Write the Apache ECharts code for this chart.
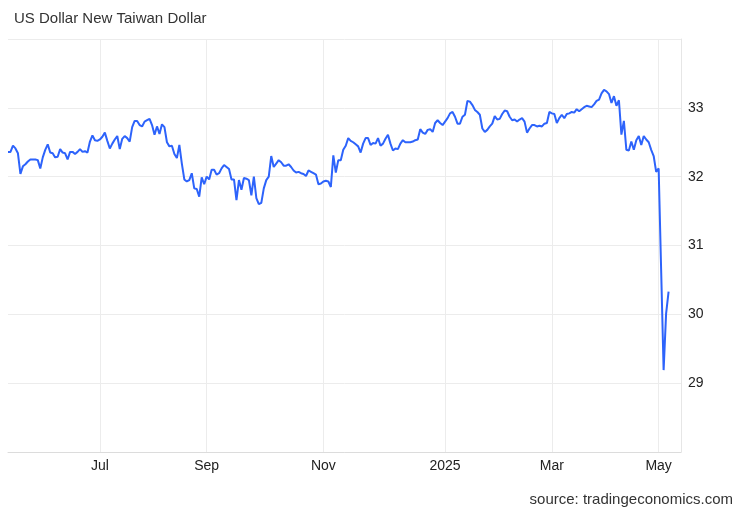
<!DOCTYPE html>
<html><head><meta charset="utf-8">
<script src="https://cdn.jsdelivr.net/npm/echarts@6/dist/echarts.min.js"></script>
<style>html,body{margin:0;padding:0;background:#fff}#c{width:743px;height:515px}</style>
</head><body><div id="c"></div><script>
var mayJun2024 = [32.36,32.36,32.45,32.41,32.34,32.04,32.15,32.18,32.22,32.25,32.25,32.25,32.24,32.12,32.28,32.39,32.47,32.35,32.34,32.28,32.29,32.40,32.35,32.34,32.25,32.36,32.36,32.33,32.36,32.40,32.36,32.37,32.35,32.51,32.60,32.53,32.52];
var julAug2024 = [32.54,32.58,32.64,32.52,32.41,32.48,32.54,32.59,32.40,32.55,32.59,32.56,32.51,32.72,32.81,32.81,32.75,32.73,32.80,32.82,32.84,32.75,32.61,32.73,32.62,32.76,32.72,32.50,32.44,32.45,32.33,32.27,32.46,32.19,31.96,31.93,31.95,32.05,31.83,31.82,31.71,31.99,31.89];
var sepOct2024 = [32.00,31.96,32.10,32.10,32.03,32.05,32.12,32.17,32.14,32.11,31.96,31.96,31.66,31.95,31.81,31.98,31.97,31.95,31.73,32.00,31.69,31.60,31.62,31.83,31.95,32.00,32.30,32.14,32.19,32.24,32.21,32.16,32.16,32.18,32.14,32.09,32.06,32.07,32.05,32.04,32.01,32.09,32.07,32.05,32.03,31.89,31.90];
var novDec2024 = [31.93,31.94,31.93,31.85,32.31,32.06,32.24,32.24,32.39,32.45,32.56,32.52,32.50,32.47,32.44,32.35,32.48,32.56,32.56,32.46,32.49,32.48,32.56,32.45,32.48,32.55,32.61,32.48,32.38,32.41,32.40,32.48,32.53,32.50,32.50,32.50,32.51,32.53,32.54,32.69,32.64,32.62,32.68,32.69,32.65,32.78,32.82,32.78,32.75];
var janFeb2025 = [32.80,32.85,32.92,32.94,32.87,32.77,32.77,32.87,32.90,33.10,33.09,33.04,32.97,32.94,32.90,32.70,32.65,32.68,32.73,32.77,32.88,32.83,32.84,32.91,32.96,32.95,32.87,32.82,32.83,32.80,32.83,32.85,32.80,32.64,32.70,32.75,32.75,32.73,32.74,32.73,32.77,32.78,32.94];
var marApr2025 = [32.92,32.91,32.78,32.85,32.90,32.85,32.91,32.92,32.94,32.93,32.98,32.95,32.98,33.01,33.03,33.02,33.01,33.05,33.10,33.12,33.21,33.26,33.24,33.20,33.07,33.17,33.03,33.11,32.61,32.81,32.39,32.38,32.51,32.39,32.53,32.59,32.46,32.59,32.54,32.50,32.39,32.30,32.07];
var may2025 = [32.12,30.65,29.19,30.01,30.33];

var tickLabels = ['Jul','Sep','Nov','2025','Mar','May'];
var yTicks = [29,30,31,32,33];

var values = [].concat(mayJun2024, julAug2024, sepOct2024, novDec2024, janFeb2025, marApr2025, may2025);
// first observation index of each labelled period
var periods = [mayJun2024, julAug2024, sepOct2024, novDec2024, janFeb2025, marApr2025];
var tickIndex = [];
var acc = 0;
for (var p = 0; p < periods.length; p++) { acc += periods[p].length; tickIndex.push(acc); }
tickIndex = tickIndex.slice(0, 6);
var trailingSlots = 5;
var categories = [];
for (var i = 0; i < values.length + trailingSlots; i++) categories.push('obs' + i);

function isTick(idx) { return tickIndex.indexOf(idx) >= 0; }

var FONT = '"Liberation Sans", Arial, Helvetica, sans-serif';
var chart = echarts.init(document.getElementById('c'), null, {renderer: 'canvas'});
chart.setOption({
  animation: false,
  backgroundColor: '#ffffff',
  grid: {left: 8, right: 62, top: 39, bottom: 63, containLabel: false},
  xAxis: {
    type: 'category',
    data: categories,
    boundaryGap: false,
    axisLine: {show: true, lineStyle: {color: '#dcdcdc', width: 1}},
    axisTick: {show: false},
    axisLabel: {
      interval: function (idx) { return isTick(idx); },
      formatter: function (v, idx) { var k = tickIndex.indexOf(idx); return k >= 0 ? tickLabels[k] : ''; },
      color: '#222', fontSize: 14, fontFamily: FONT, margin: 7
    },
    splitLine: {show: true, interval: function (idx) { return isTick(idx); }, lineStyle: {color: '#ececec', width: 1}}
  },
  yAxis: {
    type: 'value',
    position: 'right',
    min: 28, max: 34, interval: 1,
    axisLine: {show: true, lineStyle: {color: '#e6e6e6', width: 1}},
    axisTick: {show: false},
    axisLabel: {
      formatter: function (v) { return yTicks.indexOf(v) >= 0 ? String(v) : ''; },
      color: '#222', fontSize: 14, fontFamily: FONT, margin: 7
    },
    splitLine: {show: true, lineStyle: {color: '#ececec', width: 1}}
  },
  series: [{
    type: 'line',
    data: values,
    showSymbol: false,
    symbol: 'none',
    lineStyle: {color: '#2d63fb', width: 2},
    itemStyle: {color: '#2d63fb'}
  }],
  graphic: [
    {type: 'text', left: 14, top: 11, style: {text: 'US Dollar New Taiwan Dollar', fill: '#333', font: '15px ' + FONT}},
    {type: 'text', right: 10, top: 492, style: {text: 'source: tradingeconomics.com', fill: '#333', font: '15px ' + FONT}}
  ]
});
</script></body></html>
